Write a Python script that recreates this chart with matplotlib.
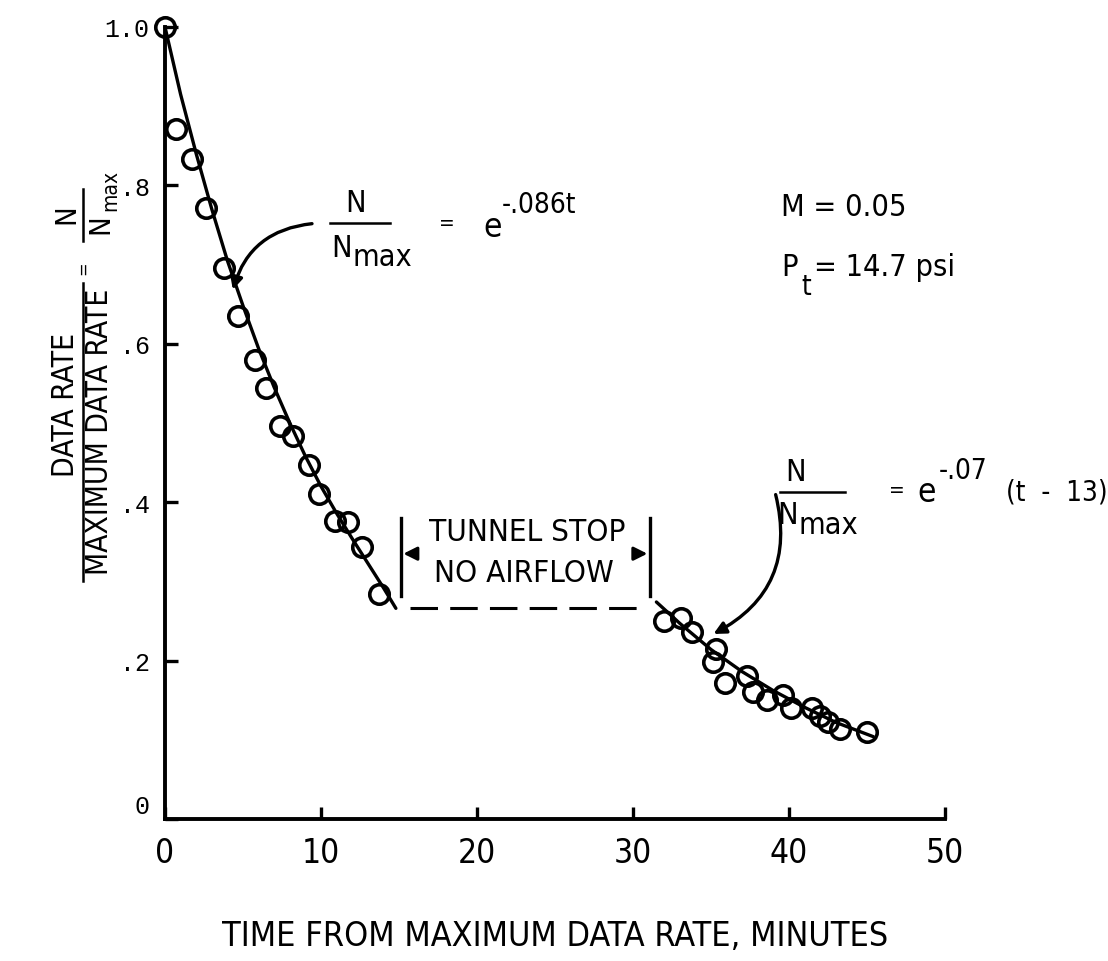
import matplotlib
matplotlib.use("Agg")
import matplotlib.pyplot as plt
from matplotlib.lines import Line2D
from matplotlib.transforms import ScaledTranslation

# measured points, first decay (before tunnel stop)
t_before = [0.0, 0.7, 1.7, 2.6, 3.8, 4.7, 5.8, 6.5, 7.4, 8.2, 9.2, 9.9, 10.9, 11.7, 12.6, 13.7]
r_before = [1.0, 0.871, 0.833, 0.772, 0.696, 0.635, 0.580, 0.544, 0.496, 0.484, 0.447, 0.410, 0.376, 0.375, 0.344, 0.284]

# measured points, second decay (after restart)
t_after = [32.0, 33.1, 33.8, 35.3, 35.1, 35.9, 37.3, 37.7, 38.6, 39.6, 40.1, 41.5, 42.0, 42.5, 43.3, 45.0]
r_after = [0.250, 0.254, 0.236, 0.215, 0.198, 0.172, 0.180, 0.160, 0.150, 0.156, 0.140, 0.140, 0.130, 0.122, 0.114, 0.110]

# faired curves
fit1_t = [0, 1, 2, 3, 4, 5, 6, 7, 8, 9, 10, 11, 12, 13, 14, 14.8]
fit1_r = [1.0, 0.915, 0.84, 0.77, 0.705, 0.648, 0.594, 0.545, 0.50, 0.458, 0.42, 0.386, 0.354, 0.323, 0.292, 0.266]
fit2_t = [31.5, 33, 35, 37, 39, 41, 43, 45.4]
fit2_r = [0.274, 0.247, 0.214, 0.186, 0.162, 0.141, 0.122, 0.104]

stop_t = [15.7, 30.3]
stop_r = [0.266, 0.266]
stop_bars = [15.1, 31.1]

x_ticks = [0, 10, 20, 30, 40, 50]
y_ticks = [0, 0.2, 0.4, 0.6, 0.8, 1.0]
y_tick_labels = ["0", ".2", ".4", ".6", ".8", "1.0"]

COND = dict(family=["DejaVu Sans"], stretch="condensed")
MONO = ["Liberation Mono", "DejaVu Sans Mono"]

W, H = 1108, 962
fig = plt.figure(figsize=(W / 100, H / 100), dpi=100)
ax = fig.add_axes([165 / W, 1 - 820 / H, 780 / W, 792 / H])

ax.plot(fit1_t, fit1_r, color="black", lw=2.4, solid_capstyle="round")
ax.plot(fit2_t, fit2_r, color="black", lw=2.4, solid_capstyle="round")
ax.plot(stop_t, stop_r, color="black", lw=2.2, dashes=(9, 4))
ax.plot(t_before, r_before, "o", mfc="none", mec="black", ms=14, mew=2.6)
ax.plot(t_after, r_after, "o", mfc="none", mec="black", ms=14, mew=2.6)

# tunnel stop brackets
for tb in stop_bars:
    ax.plot([tb, tb], [0.282, 0.38], color="black", lw=2.4)
ax.annotate("", xy=(stop_bars[0], 0.335), xytext=(16.2, 0.335),
            arrowprops=dict(arrowstyle="-|>", color="black", lw=2.2, mutation_scale=20))
ax.annotate("", xy=(stop_bars[1], 0.335), xytext=(30.0, 0.335),
            arrowprops=dict(arrowstyle="-|>", color="black", lw=2.2, mutation_scale=20))
ax.text(23.2, 0.363, "TUNNEL STOP", ha="center", va="center", fontsize=22.5, **COND)
ax.text(23.0, 0.311, "NO AIRFLOW", ha="center", va="center", fontsize=22.5, **COND)

# first formula
ax.text(12.2, 0.779, "N", ha="center", va="center", fontsize=22, **COND)
ax.plot([10.6, 14.4], [0.752, 0.752], color="black", lw=1.8)
ax.text(11.3, 0.722, "N", ha="center", va="center", fontsize=22, **COND)
ax.text(12.0, 0.710, "max", ha="left", va="center", fontsize=22, **COND)
ax.text(18.1, 0.752, "=", ha="center", va="center", fontsize=15, **COND)
ax.text(21.0, 0.748, "e", ha="center", va="center", fontsize=24, **COND)
ax.text(21.6, 0.777, "-.086t", ha="left", va="center", fontsize=20, **COND)
ax.annotate("", xy=(4.3, 0.665), xytext=(9.6, 0.752),
            arrowprops=dict(arrowstyle="-|>", color="black", lw=2.4, mutation_scale=18,
                            connectionstyle="arc3,rad=0.35"))

# second formula
ax.text(40.4, 0.439, "N", ha="center", va="center", fontsize=22, **COND)
ax.plot([39.4, 43.6], [0.413, 0.413], color="black", lw=1.8)
ax.text(39.9, 0.384, "N", ha="center", va="center", fontsize=22, **COND)
ax.text(40.6, 0.372, "max", ha="left", va="center", fontsize=22, **COND)
ax.text(46.9, 0.415, "=", ha="center", va="center", fontsize=15, **COND)
ax.text(48.8, 0.413, "e", ha="center", va="center", fontsize=24, **COND)
ax.text(49.6, 0.441, "-.07", ha="left", va="center", fontsize=20, **COND)
ax.text(53.9, 0.413, "(t  -  13)", ha="left", va="center", fontsize=20, **COND)
ax.annotate("", xy=(35.0, 0.232), xytext=(39.1, 0.413),
            arrowprops=dict(arrowstyle="-|>", color="black", lw=2.4, mutation_scale=18,
                            connectionstyle="arc3,rad=-0.4"))

# flow conditions
ax.text(39.5, 0.773, "M = 0.05", ha="left", va="center", fontsize=22, **COND)
ax.text(39.5, 0.698, "P", ha="left", va="center", fontsize=22, **COND)
ax.text(40.8, 0.673, "t", ha="left", va="center", fontsize=20, **COND)
ax.text(41.6, 0.698, "= 14.7 psi", ha="left", va="center", fontsize=22, **COND)

ax.set_xlim(0, 50)
ax.set_ylim(0, 1.0)
ax.set_xticks(x_ticks)
ax.set_yticks(y_ticks)
ax.set_yticklabels(y_tick_labels, family=MONO, fontsize=18)
ax.set_xticklabels([str(v) for v in x_ticks], fontsize=24, **COND)
ax.tick_params(direction="in", length=9, width=2.4, pad=12)
ax.tick_params(axis="y", pad=11)
zero_lbl = ax.yaxis.get_major_ticks()[0].label1
zero_lbl.set_transform(zero_lbl.get_transform() + ScaledTranslation(0, 0.15, fig.dpi_scale_trans))
for side in ["top", "right"]:
    ax.spines[side].set_visible(False)
for side in ["left", "bottom"]:
    ax.spines[side].set_linewidth(2.8)
for ln in ax.lines:
    ln.set_clip_on(False)

ax.set_xlabel("TIME FROM MAXIMUM DATA RATE, MINUTES", fontsize=24.5, labelpad=36, **COND)

# y-axis label drawn as a rotated fraction
fig.text(66 / W, 1 - 405 / H, "DATA RATE", rotation=90, ha="center", va="center",
         fontsize=21.5, **COND)
fig.text(100 / W, 1 - 432 / H, "MAXIMUM DATA RATE", rotation=90, ha="center", va="center",
         fontsize=21.5, **COND)
fig.add_artist(Line2D([83 / W, 83 / W], [1 - 582 / H, 1 - 284 / H], color="black", lw=1.8))
fig.text(83 / W, 1 - 268 / H, "=", rotation=90, ha="center", va="center", fontsize=13, **COND)
fig.text(66 / W, 1 - 214 / H, "N", rotation=90, ha="center", va="center", fontsize=21, **COND)
fig.text(100 / W, 1 - 224 / H, "N", rotation=90, ha="center", va="center", fontsize=21, **COND)
fig.text(110 / W, 1 - 190 / H, "max", rotation=90, ha="center", va="center", fontsize=15, **COND)
fig.add_artist(Line2D([83 / W, 83 / W], [1 - 242 / H, 1 - 190 / H], color="black", lw=1.8))

fig.savefig("out.png", dpi=100)
